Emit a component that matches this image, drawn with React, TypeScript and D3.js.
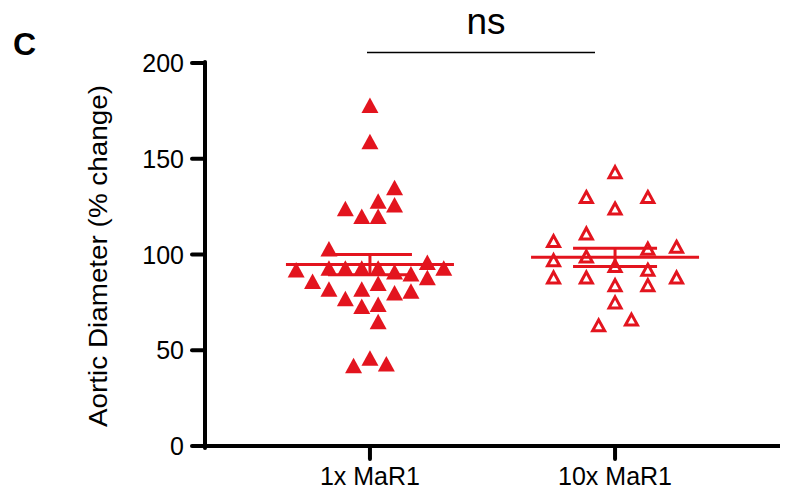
import React from "react";
import * as d3 from "d3";

const categories = ["1x MaR1", "10x MaR1"];
const yTicks = [0, 50, 100, 150, 200];

// 1x MaR1 (filled triangles)
const group1Values = [178, 159, 135, 128, 126, 124, 120, 120, 103, 92, 93, 93, 93, 93, 91, 90, 96, 93, 86, 88, 82, 82, 85, 81, 77, 80, 73, 74, 65, 42, 46, 43];
const group1Slots = [0, 0, 6, 2, 6, -6, -2, 2, -10, -18, -10, -6, -2, 2, 6, 10, 14, 18, -14, 14, -10, -2, 2, 10, -6, 6, -2, 2, 2, -4, 0, 4];

// 10x MaR1 (open triangles)
const group2Values = [143, 130, 130, 124, 111, 107, 104, 103, 99, 97, 94, 92, 88, 88, 88, 84, 84, 75, 63, 66];
const group2Slots = [0, -7, 8, 0, -7, -15, 15, 8, -7, -15, 0, 8, -15, -7, 15, 0, 8, 0, -4, 4];

const RED = "#E3141E";
const FONT = "'Liberation Sans', Arial, Helvetica, sans-serif";

export default function App() {
  const W = 795, H = 498;
  const y = d3.scaleLinear().domain([0, 200]).range([446, 63]);
  const x = d3.scalePoint<string>().domain(categories).range([205, 780]).padding(0.673);
  const jitter = d3.scaleLinear().domain([-20, 20]).range([-82, 82]);

  const groups = [
    { cat: categories[0], values: group1Values, slots: group1Slots, filled: true },
    { cat: categories[1], values: group2Values, slots: group2Slots, filled: false },
  ];

  const triPath = (w: number, h: number) => `M0,${-h / 2}L${w / 2},${h / 2}L${-w / 2},${h / 2}Z`;
  const filledTri = triPath(17, 15.5);
  const openTri = triPath(12, 11);

  const x0 = 205, x1 = 780;
  const yb = y(0);

  return (
    <svg width={W} height={H} style={{ position: "absolute", left: 0, top: 0, background: "#fff" }} fontFamily={FONT}>
      <rect width={W} height={H} fill="#fff" />
      {/* panel letter */}
      <text x={13} y={55} fontSize={32} fontWeight="bold" fill="#000">C</text>

      {/* y axis label */}
      <text transform={`translate(107,256) rotate(-90)`} textAnchor="middle" fontSize={26} fill="#000"
        textLength={342} lengthAdjust="spacingAndGlyphs">Aortic Diameter (% change)</text>

      {/* y axis */}
      <line x1={x0} x2={x0} y1={yb + 2} y2={y(200) - 1} stroke="#000" strokeWidth={4} strokeLinecap="round" />
      {yTicks.map(t => (
        <g key={t}>
          <line x1={x0 - 13} x2={x0} y1={y(t)} y2={y(t)} stroke="#000" strokeWidth={4} strokeLinecap="round" />
          <text x={184} y={y(t) + 9} textAnchor="end" fontSize={25} fill="#000">{t}</text>
        </g>
      ))}

      {/* x axis */}
      <line x1={x0} x2={x1} y1={yb} y2={yb} stroke="#000" strokeWidth={4} />
      {categories.map(c => (
        <g key={c}>
          <line x1={x(c)!} x2={x(c)!} y1={yb} y2={yb + 13} stroke="#000" strokeWidth={4} strokeLinecap="round" />
          <text x={x(c)!} y={485} textAnchor="middle" fontSize={25} fill="#000">{c}</text>
        </g>
      ))}

      {/* significance */}
      <line x1={367} x2={595} y1={52.5} y2={52.5} stroke="#000" strokeWidth={1.5} />
      <text x={486} y={34} textAnchor="middle" fontSize={37} fill="#000">ns</text>

      {/* points */}
      {groups.map(g => (
        <g key={g.cat}>
          {g.values.map((v, i) => (
            <path key={i} d={g.filled ? filledTri : openTri}
              transform={`translate(${x(g.cat)! + jitter(g.slots[i])},${y(v)})`}
              fill={g.filled ? RED : "none"} stroke={g.filled ? "none" : RED}
              strokeWidth={g.filled ? 0 : 3} strokeLinejoin="miter" />
          ))}
        </g>
      ))}

      {/* mean & SEM */}
      {groups.map(g => {
        const m = d3.mean(g.values)!;
        const sem = d3.deviation(g.values)! / Math.sqrt(g.values.length);
        const cx = x(g.cat)!;
        return (
          <g key={g.cat + "m"} stroke={RED} strokeWidth={3}>
            <line x1={cx - 84} x2={cx + 84} y1={y(m)} y2={y(m)} />
            <line x1={cx - 42} x2={cx + 42} y1={y(m + sem)} y2={y(m + sem)} />
            <line x1={cx - 42} x2={cx + 42} y1={y(m - sem)} y2={y(m - sem)} />
            <line x1={cx} x2={cx} y1={y(m + sem)} y2={y(m - sem)} />
          </g>
        );
      })}
    </svg>
  );
}
